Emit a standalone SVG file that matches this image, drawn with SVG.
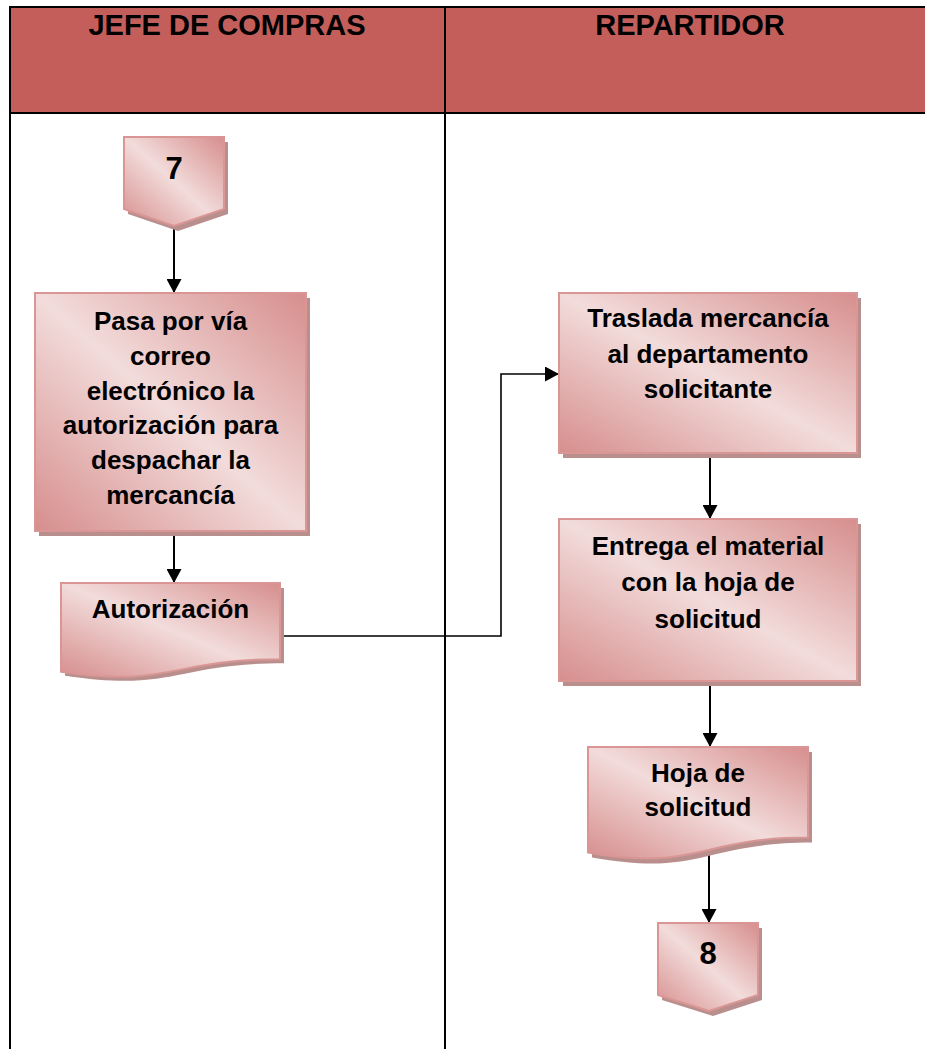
<svg xmlns="http://www.w3.org/2000/svg" width="925" height="1049" viewBox="0 0 925 1049">
  <style>
    .lane-head { fill: #c45e5a; }
    .rule { stroke: #000; stroke-width: 2; fill: none; }
    .title { font-family: "Liberation Sans", Arial, sans-serif; font-weight: bold; font-size: 29px; fill: #000; text-anchor: middle; }
    .label { font-family: "Liberation Sans", Arial, sans-serif; font-weight: bold; font-size: 26px; fill: #000; text-anchor: middle; }
    .num { font-family: "Liberation Sans", Arial, sans-serif; font-weight: bold; font-size: 31px; fill: #000; text-anchor: middle; }
    .shape { fill: url(#pinkFill); stroke: #d99694; stroke-width: 2; }
    .shadow { fill: #b98f8e; }
    .flow { stroke: #000; stroke-width: 2; fill: none; marker-end: url(#arrow); }
    .flow-thin { stroke: #000; stroke-width: 1.6; fill: none; marker-end: url(#arrow); }
  </style>
  <defs>
    <linearGradient id="pinkFill" x1="1" y1="0" x2="0" y2="1">
      <stop offset="0" stop-color="#d68e8d"/>
      <stop offset="0.5" stop-color="#f2dcdb"/>
      <stop offset="1" stop-color="#d68e8d"/>
    </linearGradient>
    <marker id="arrow" markerUnits="userSpaceOnUse" markerWidth="14" markerHeight="15" refX="14" refY="7.5" orient="auto">
      <path d="M0,0 L14,7.5 L0,15 Z" fill="#000"/>
    </marker>
  </defs>

  <!-- swimlane frame -->
  <g id="lanes">
    <rect class="lane-head" x="10" y="7" width="915" height="106"/>
    <line class="rule" x1="10" y1="7" x2="925" y2="7"/>
    <line class="rule" x1="10" y1="113" x2="925" y2="113"/>
    <line class="rule" x1="10" y1="6" x2="10" y2="1049"/>
    <line class="rule" x1="445" y1="7" x2="445" y2="1049"/>
    <text class="title" x="227" y="35">JEFE DE COMPRAS</text>
    <text class="title" x="690" y="35">REPARTIDOR</text>
  </g>

  <!-- connectors -->
  <g id="connectors">
    <line class="flow" x1="174" y1="226" x2="174" y2="293"/>
    <line class="flow" x1="174" y1="531" x2="174" y2="583"/>
    <polyline class="flow-thin" points="281,636 501,636 501,374 559,374"/>
    <line class="flow" x1="710" y1="453" x2="710" y2="519"/>
    <line class="flow" x1="710" y1="681" x2="710" y2="747"/>
    <line class="flow" x1="709" y1="850" x2="709" y2="923"/>
  </g>

  <!-- off-page connector 7 -->
  <g id="off-page-7">
    <path class="shadow" d="M128,142 H228 V214 L178,231 L128,214 Z"/>
    <path class="shape" d="M124,137 H224 V209 L174,226 L124,209 Z"/>
    <text class="num" x="174" y="179">7</text>
  </g>

  <!-- process: send authorisation -->
  <g id="send-authorization">
    <rect class="shadow" x="39" y="298" width="271" height="238"/>
    <rect class="shape" x="35" y="293" width="271" height="238"/>
    <text class="label" x="170.5" y="330">Pasa por vía</text>
    <text class="label" x="170.5" y="364.8">correo</text>
    <text class="label" x="170.5" y="399.6">electrónico la</text>
    <text class="label" x="170.5" y="434.4">autorización para</text>
    <text class="label" x="170.5" y="469.2">despachar la</text>
    <text class="label" x="170.5" y="504">mercancía</text>
  </g>

  <!-- document: authorisation -->
  <g id="authorization-doc">
    <path class="shadow" d="M65,588 H284 V663.2 C174.5,663.2 174.5,692.2 65,675.7 Z"/>
    <path class="shape" d="M61,583 H280 V659.2 C170.5,659.2 170.5,688.2 61,671.7 Z"/>
    <text class="label" x="170.5" y="618">Autorización</text>
  </g>

  <!-- process: move goods -->
  <g id="move-goods">
    <rect class="shadow" x="563" y="298" width="298" height="160"/>
    <rect class="shape" x="559" y="293" width="298" height="160"/>
    <text class="label" x="708" y="327">Traslada mercancía</text>
    <text class="label" x="708" y="362.5">al departamento</text>
    <text class="label" x="708" y="398">solicitante</text>
  </g>

  <!-- process: deliver material -->
  <g id="deliver-material">
    <rect class="shadow" x="563" y="524" width="298" height="162"/>
    <rect class="shape" x="559" y="519" width="298" height="162"/>
    <text class="label" x="708" y="555">Entrega el material</text>
    <text class="label" x="708" y="591">con la hoja de</text>
    <text class="label" x="708" y="628">solicitud</text>
  </g>

  <!-- document: request sheet -->
  <g id="request-sheet-doc">
    <path class="shadow" d="M592,752 H812 V842.6 C702,842.6 702,877 592,857.5 Z"/>
    <path class="shape" d="M588,747 H808 V837.6 C698,837.6 698,872 588,852.5 Z"/>
    <text class="label" x="698" y="782">Hoja de</text>
    <text class="label" x="698" y="816">solicitud</text>
  </g>

  <!-- off-page connector 8 -->
  <g id="off-page-8">
    <path class="shadow" d="M662,928 H762 V1000 L713,1016 L662,1000 Z"/>
    <path class="shape" d="M658,923 H758 V995 L709,1011 L658,995 Z"/>
    <text class="num" x="708" y="964">8</text>
  </g>
</svg>
